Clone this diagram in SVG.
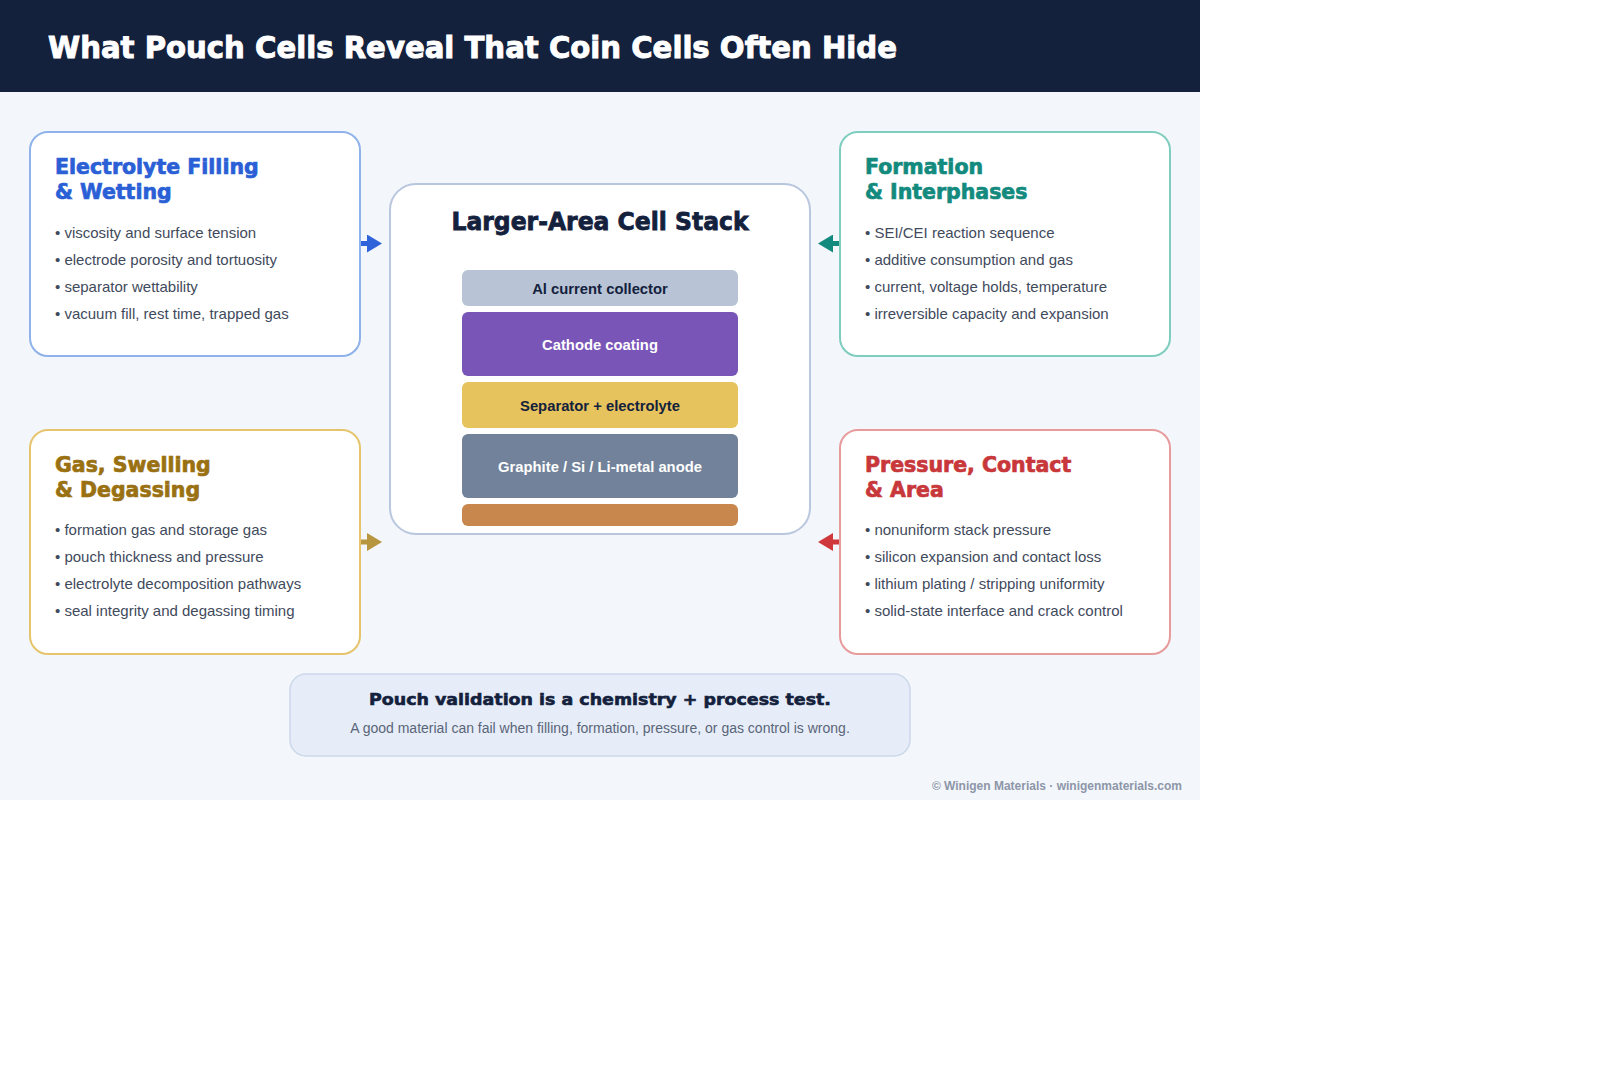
<svg xmlns="http://www.w3.org/2000/svg" width="1600" height="1067" viewBox="0 0 1600 1067">
<style>
.head{font-family:"DejaVu Sans","Liberation Sans",sans-serif;font-weight:bold}
.card{fill:#ffffff;stroke-width:2}
.ctitle{font-family:"DejaVu Sans","Liberation Sans",sans-serif;font-weight:bold;font-size:20.5px;stroke-width:0.7}
.bul{font-family:"Liberation Sans",Arial,sans-serif;font-size:15px;fill:#3f4a5c}
.lay{font-family:"Liberation Sans",Arial,sans-serif;font-weight:bold;font-size:14.8px;text-anchor:middle}
.conn{stroke-width:5;fill:none}
</style>
<defs>
<marker id="mBlue" markerUnits="userSpaceOnUse" markerWidth="16" markerHeight="18" refX="0" refY="9" orient="auto"><path d="M0,0 L15,9 L0,18 Z" fill="#2f63d9"/></marker>
<marker id="mTeal" markerUnits="userSpaceOnUse" markerWidth="16" markerHeight="18" refX="0" refY="9" orient="auto"><path d="M0,0 L15,9 L0,18 Z" fill="#138a7e"/></marker>
<marker id="mGold" markerUnits="userSpaceOnUse" markerWidth="16" markerHeight="18" refX="0" refY="9" orient="auto"><path d="M0,0 L15,9 L0,18 Z" fill="#b8953f"/></marker>
<marker id="mRed" markerUnits="userSpaceOnUse" markerWidth="16" markerHeight="18" refX="0" refY="9" orient="auto"><path d="M0,0 L15,9 L0,18 Z" fill="#d0393b"/></marker>
</defs>
<rect x="0" y="0" width="1600" height="1067" fill="#ffffff"/>
<rect x="0" y="0" width="1200" height="800" fill="#f3f6fb"/>
<rect x="0" y="0" width="1200" height="92" fill="#14213d"/>
<text class="head" x="48" y="58" font-size="31" fill="#ffffff" stroke="#ffffff" stroke-width="1" textLength="849" lengthAdjust="spacingAndGlyphs">What Pouch Cells Reveal That Coin Cells Often Hide</text>

<g id="connectors">
<path class="conn" d="M360,243.5 L367,243.5" stroke="#2f63d9" marker-end="url(#mBlue)"/>
<path class="conn" d="M840,243.5 L833,243.5" stroke="#138a7e" marker-end="url(#mTeal)"/>
<path class="conn" d="M360,542 L367,542" stroke="#b8953f" marker-end="url(#mGold)"/>
<path class="conn" d="M840,542 L833,542" stroke="#d0393b" marker-end="url(#mRed)"/>
</g>

<g id="node-filling">
<rect class="card" x="30" y="132" width="330" height="224" rx="18" stroke="#8fb2ea"/>
<text class="ctitle" fill="#2a5fd6" stroke="#2a5fd6"><tspan x="55" y="174">Electrolyte Filling</tspan><tspan x="55" y="199">&amp; Wetting</tspan></text>
<text class="bul"><tspan x="55" y="238">• viscosity and surface tension</tspan><tspan x="55" y="265">• electrode porosity and tortuosity</tspan><tspan x="55" y="292">• separator wettability</tspan><tspan x="55" y="319">• vacuum fill, rest time, trapped gas</tspan></text>
</g>

<g id="node-formation">
<rect class="card" x="840" y="132" width="330" height="224" rx="18" stroke="#7fcdbf"/>
<text class="ctitle" fill="#138a7e" stroke="#138a7e"><tspan x="865" y="174">Formation</tspan><tspan x="865" y="199">&amp; Interphases</tspan></text>
<text class="bul"><tspan x="865" y="238">• SEI/CEI reaction sequence</tspan><tspan x="865" y="265">• additive consumption and gas</tspan><tspan x="865" y="292">• current, voltage holds, temperature</tspan><tspan x="865" y="319">• irreversible capacity and expansion</tspan></text>
</g>

<g id="node-gas">
<rect class="card" x="30" y="430" width="330" height="224" rx="18" stroke="#e5c46c"/>
<text class="ctitle" fill="#9a7112" stroke="#9a7112"><tspan x="55" y="472">Gas, Swelling</tspan><tspan x="55" y="497">&amp; Degassing</tspan></text>
<text class="bul"><tspan x="55" y="535">• formation gas and storage gas</tspan><tspan x="55" y="562">• pouch thickness and pressure</tspan><tspan x="55" y="589">• electrolyte decomposition pathways</tspan><tspan x="55" y="616">• seal integrity and degassing timing</tspan></text>
</g>

<g id="node-pressure">
<rect class="card" x="840" y="430" width="330" height="224" rx="18" stroke="#e89b9b"/>
<text class="ctitle" fill="#c8373a" stroke="#c8373a"><tspan x="865" y="472">Pressure, Contact</tspan><tspan x="865" y="497">&amp; Area</tspan></text>
<text class="bul"><tspan x="865" y="535">• nonuniform stack pressure</tspan><tspan x="865" y="562">• silicon expansion and contact loss</tspan><tspan x="865" y="589">• lithium plating / stripping uniformity</tspan><tspan x="865" y="616">• solid-state interface and crack control</tspan></text>
</g>

<g id="node-stack">
<rect class="card" x="390" y="184" width="420" height="350" rx="26" stroke="#b9c7de"/>
<text class="head" x="600" y="230" font-size="24" fill="#14213d" stroke="#14213d" stroke-width="0.8" text-anchor="middle" textLength="297" lengthAdjust="spacingAndGlyphs">Larger-Area Cell Stack</text>
<rect x="462" y="270" width="276" height="36" rx="6" fill="#b8c4d5"/>
<text class="lay" x="600" y="294" fill="#14213d">Al current collector</text>
<rect x="462" y="312" width="276" height="64" rx="6" fill="#7955b8"/>
<text class="lay" x="600" y="350" fill="#ffffff">Cathode coating</text>
<rect x="462" y="382" width="276" height="46" rx="6" fill="#e6c35c"/>
<text class="lay" x="600" y="411" fill="#14213d">Separator + electrolyte</text>
<rect x="462" y="434" width="276" height="64" rx="6" fill="#71829a"/>
<text class="lay" x="600" y="472" fill="#ffffff">Graphite / Si / Li-metal anode</text>
<rect x="462" y="504" width="276" height="22" rx="6" fill="#c8874c"/>
</g>

<g id="node-summary">
<rect x="290" y="674" width="620" height="82" rx="16" fill="#e6edf8" stroke="#ccd8ea" stroke-width="1.5"/>
<text class="head" x="600" y="705" font-size="16" fill="#14213d" stroke="#14213d" stroke-width="0.6" text-anchor="middle" textLength="462" lengthAdjust="spacingAndGlyphs">Pouch validation is a chemistry + process test.</text>
<text x="600" y="733" font-family="Liberation Sans, Arial, sans-serif" font-size="14" fill="#5a6578" text-anchor="middle">A good material can fail when filling, formation, pressure, or gas control is wrong.</text>
</g>

<text x="1182" y="790" font-family="Liberation Sans, Arial, sans-serif" font-size="12" font-weight="bold" fill="#8d96a8" text-anchor="end">© Winigen Materials · winigenmaterials.com</text>
</svg>
